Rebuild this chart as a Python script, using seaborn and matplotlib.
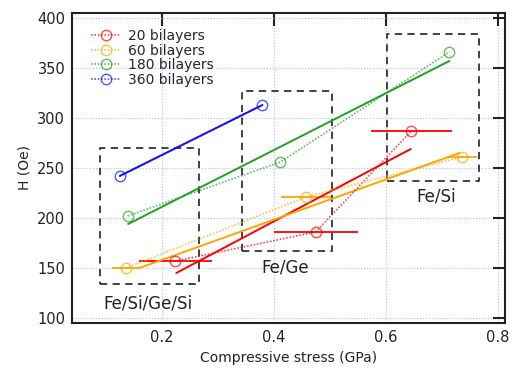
import numpy as np
import pandas as pd
import matplotlib
matplotlib.use("Agg")
import matplotlib.pyplot as plt
import seaborn as sns

sns.set_theme(style="white")
plt.rcParams['font.family'] = ['DejaVu Sans']

# measured points (stress in GPa, H in Oe)
series = ["20 bilayers", "60 bilayers", "180 bilayers", "360 bilayers"]
stress_20 = [0.224, 0.475, 0.646]
h_20 = [157, 186, 287]
err_20 = [0.065, 0.075, 0.073]
stress_60 = [0.136, 0.458, 0.736]
h_60 = [150, 221, 261]
err_60 = [0.024, 0.045, 0.027]
stress_180 = [0.139, 0.412, 0.714]
h_180 = [202, 256, 366]
stress_360 = [0.125, 0.38]
h_360 = [242, 313]

# linear fit lines (end points)
fit_x_20 = [0.226, 0.645]
fit_y_20 = [145, 269]
fit_x_60 = [0.16, 0.732]
fit_y_60 = [150, 265]
fit_x_180 = [0.14, 0.714]
fit_y_180 = [194, 357]
fit_x_360 = [0.125, 0.38]
fit_y_360 = [242, 313]

# sample groups (dashed boxes)
groups = ["Fe/Si/Ge/Si", "Fe/Ge", "Fe/Si"]
box_x0 = [0.09, 0.344, 0.603]
box_x1 = [0.266, 0.504, 0.766]
box_y0 = [134, 167, 237]
box_y1 = [270, 327, 384]
label_x = [0.175, 0.42, 0.69]
label_y = [115, 150, 221]

colors = ["#ff0000", "#ffa500", "#22a022", "#1010ff"]
palette = dict(zip(series, colors))

df = pd.concat([
    pd.DataFrame({"stress": stress_20, "H": h_20, "series": series[0]}),
    pd.DataFrame({"stress": stress_60, "H": h_60, "series": series[1]}),
    pd.DataFrame({"stress": stress_180, "H": h_180, "series": series[2]}),
    pd.DataFrame({"stress": stress_360, "H": h_360, "series": series[3]}),
])
fits = pd.concat([
    pd.DataFrame({"stress": fit_x_20, "H": fit_y_20, "series": series[0]}),
    pd.DataFrame({"stress": fit_x_60, "H": fit_y_60, "series": series[1]}),
    pd.DataFrame({"stress": fit_x_180, "H": fit_y_180, "series": series[2]}),
    pd.DataFrame({"stress": fit_x_360, "H": fit_y_360, "series": series[3]}),
])

fig = plt.figure(figsize=(5.12, 3.70), dpi=100)
ax = fig.add_axes([0.141, 0.127, 0.845, 0.838])

# horizontal error bars
for xs, ys, es, c in [(stress_20, h_20, err_20, colors[0]), (stress_60, h_60, err_60, colors[1])]:
    ax.errorbar(xs, ys, xerr=es, fmt="none", ecolor=c, elinewidth=1.3, capsize=0, zorder=2)

# fitted lines
sns.lineplot(data=fits, x="stress", y="H", hue="series", palette=palette,
             linewidth=1.4, legend=False, ax=ax, zorder=3)
n_before = len(ax.lines)

# measured data, dotted with open circles
sns.lineplot(data=df, x="stress", y="H", hue="series", palette=palette,
             linestyle=(0, (1, 1)), linewidth=1.2, sort=False, legend=False,
             ax=ax, zorder=4)
for line in ax.lines[n_before:]:
    c = line.get_color()
    line.set_marker("o")
    line.set_markersize(7.5)
    line.set_markerfacecolor("none")
    line.set_markeredgecolor(c)
    line.set_markeredgewidth(1.0)
    line.set_alpha(0.7)

for x0, x1, y0, y1, lab, lx, ly in zip(box_x0, box_x1, box_y0, box_y1, groups, label_x, label_y):
    ax.plot([x0, x1, x1, x0, x0], [y0, y0, y1, y1, y0], color="#333333",
            linestyle=(0, (4, 3)), linewidth=1.3, zorder=1)
    ax.text(lx, ly, lab, ha="center", va="center", fontsize=12, color="#222222")

ax.set_xlim(0.04, 0.813)
ax.set_ylim(95, 405)
ax.set_xticks([0.2, 0.4, 0.6, 0.8])
ax.set_xticklabels(["0.2", "0.4", "0.6", "0.8"])
ax.set_yticks([100, 150, 200, 250, 300, 350, 400])
ax.grid(True, color="#b8b8ff", linestyle=":", linewidth=0.8)
ax.tick_params(direction="in", length=9, width=1.5, top=True, right=True,
               labelsize=10.5, colors="#222222", pad=5)
for s in ax.spines.values():
    s.set_color("#222222")
    s.set_linewidth(1.5)
ax.set_xlabel("Compressive stress (GPa)", fontsize=10, color="#222222")
ax.set_ylabel("H (Oe)", fontsize=10, color="#222222")

handles = ax.lines[n_before:n_before + 4]
ax.legend(handles, series, loc="upper left", bbox_to_anchor=(0.02, 0.98), frameon=False,
          fontsize=10, handlelength=2.2, labelspacing=0.05, borderaxespad=0.3,
          handletextpad=0.5)

fig.savefig("out.png", dpi=100)
